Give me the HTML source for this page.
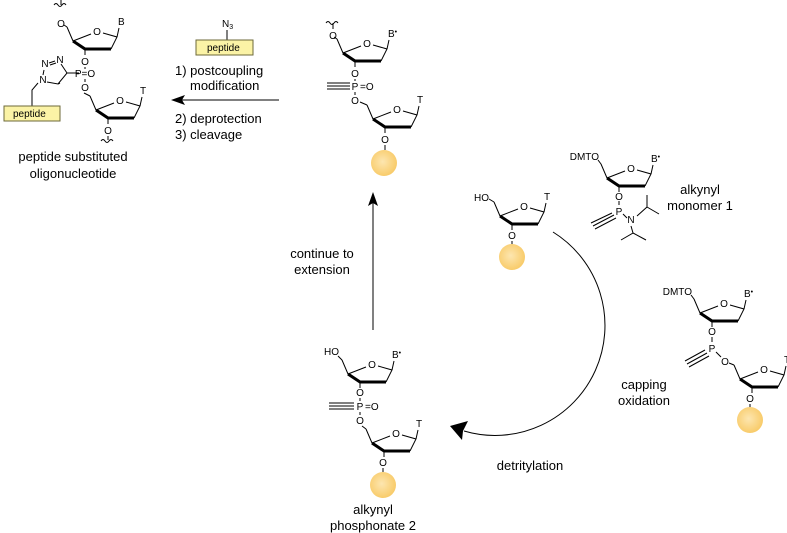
<!DOCTYPE html>
<html><head><meta charset="utf-8"><style>
html,body{margin:0;padding:0;background:#fff;}
svg{display:block;}
.l{stroke:#000;stroke-width:1;fill:none;}
.b{stroke:#000;stroke-width:3;fill:none;stroke-linejoin:round;}
.a{font-family:"Liberation Sans",sans-serif;font-size:10px;text-anchor:middle;fill:#000;}
.s{font-family:"Liberation Sans",sans-serif;font-size:10px;fill:#000;}
.c{font-family:"Liberation Sans",sans-serif;font-size:13px;fill:#000;}
.m{text-anchor:middle;}
.bd{fill:url(#g);}
.pb{fill:#fbf3a6;stroke:#6d6a3a;stroke-width:1;}
</style></head><body>
<svg width="787" height="533" viewBox="0 0 787 533" xmlns="http://www.w3.org/2000/svg">
<defs><radialGradient id="g" cx="0.45" cy="0.45" r="0.6"><stop offset="0" stop-color="#fde6b0"/><stop offset="1" stop-color="#f8c964"/></radialGradient></defs>

<!-- ===== A: product ===== -->
<g transform="translate(73,41)">
<path class="l" d="M0,0 L18,-7 M30,-8 L44,-4 L38,8 M-6,-14 L0,0 M-6,-14 L-9,-16 M44,-4 L46,-13 M12,8 L12,14"/>
<path class="b" d="M0,0 L12,8 L38,8"/>
<text class="a" x="24" y="-6">O</text>
<text class="a" x="-12" y="-14">O</text>
<text class="s" x="45" y="-16">B</text>
<text class="a" x="12" y="24">O</text>
</g>
<path class="l" d="M61,-1 L61,5 M54,5 q2,-3 4,0 t4,0 t4,0"/>
<text class="a" x="85" y="77">P=O</text>
<text class="a" x="85" y="91">O</text>
<path class="l" d="M85,67 L85,69 M85,79 L85,82 M79,73 L67,73 L58,84 L47,82 M67,73 L61,64 M58,84 L60,83"/>
<text class="a" x="45" y="67">N</text>
<text class="a" x="60" y="63">N</text>
<path class="l" d="M49,63 L55,61 M50,65 L56,63"/>
<text class="a" x="43" y="83">N</text>
<path class="l" d="M44,70 L43,75 M38,83 L32,90 L32,106"/>
<rect class="pb" x="4" y="106" width="56" height="15"/>
<text class="s" x="13" y="117">peptide</text>
<g transform="translate(96,110)">
<path class="l" d="M0,0 L18,-7 M30,-8 L44,-4 L38,8 M-6,-14 L0,0 M-6,-14 L-12,-17 M44,-4 L46,-13 M12,8 L12,14"/>
<path class="b" d="M0,0 L12,8 L38,8"/>
<text class="a" x="24" y="-6">O</text>
<text class="s" x="44" y="-16">T</text>
<text class="a" x="12" y="24">O</text>
<path class="l" d="M12,26 L12,30 M5,31 q2,-3 4,0 t4,0 t4,0"/>
</g>
<text class="c m" x="73" y="161">peptide substituted</text>
<text class="c m" x="73" y="178">oligonucleotide</text>

<!-- ===== B: arrow left ===== -->
<text class="s" x="222" y="27">N<tspan font-size="7" dy="2">3</tspan></text>
<path class="l" d="M227,30 L227,40"/>
<rect class="pb" x="196" y="40" width="57" height="15"/>
<text class="s" x="207" y="51">peptide</text>
<text class="c" x="175" y="75">1) postcoupling</text>
<text class="c" x="190" y="90">modification</text>
<path class="l" d="M279,100 L182,100"/>
<polygon points="171,100 185,95 182,100 185,105" fill="#000"/>
<text class="c" x="175" y="123">2) deprotection</text>
<text class="c" x="175" y="139">3) cleavage</text>

<!-- ===== C: top middle ===== -->
<g transform="translate(343,53)">
<path class="l" d="M0,0 L18,-7 M30,-8 L44,-4 L38,8 M-6,-14 L0,0 M-6,-14 L-9,-16 M44,-4 L46,-13 M12,8 L12,14"/>
<path class="b" d="M0,0 L12,8 L38,8"/>
<text class="a" x="24" y="-6">O</text>
<text class="a" x="-10" y="-14">O</text>
<path class="l" d="M-10,-24 L-10,-30 M-17,-30 q2,-3 4,0 t4,0 t4,0"/>
<text class="s" x="45" y="-16">B<tspan font-size="7" dy="-3">•</tspan></text>
<text class="a" x="12" y="24">O</text>
</g>
<text class="a" x="355" y="90">P</text>
<text class="s" x="360" y="90">=O</text>
<text class="a" x="355" y="104">O</text>
<path class="l" d="M355,79 L355,81 M355,92 L355,95 M327,83 L350,83 M327,86 L350,86 M327,89 L350,89"/>
<g transform="translate(373,119)">
<path class="l" d="M0,0 L18,-7 M30,-8 L44,-4 L38,8 M-6,-14 L0,0 M-6,-14 L-13,-17 M44,-4 L46,-13 M12,8 L12,14"/>
<path class="b" d="M0,0 L12,8 L38,8"/>
<text class="a" x="24" y="-6">O</text>
<text class="s" x="44" y="-16">T</text>
<text class="a" x="12" y="24">O</text>
<path class="l" d="M12,26 L12,31"/>
<circle class="bd" cx="11" cy="44" r="13"/>
</g>

<!-- ===== D: up arrow ===== -->
<path class="l" d="M373,330 L373,203"/>
<polygon points="373,192 368,206 373,203 378,206" fill="#000"/>
<text class="c m" x="322" y="258">continue to</text>
<text class="c m" x="322" y="274">extension</text>

<!-- ===== E: HO-T bead ===== -->
<g transform="translate(500,216)">
<path class="l" d="M0,0 L18,-7 M30,-8 L44,-4 L38,8 M-6,-14 L0,0 M-6,-14 L-11,-17 M44,-4 L46,-13 M12,8 L12,14"/>
<path class="b" d="M0,0 L12,8 L38,8"/>
<text class="a" x="24" y="-6">O</text>
<text class="s" x="-11" y="-15" text-anchor="end">HO</text>
<text class="s" x="44" y="-16">T</text>
<text class="a" x="12" y="23">O</text>
<path class="l" d="M12,25 L12,29"/>
<circle class="bd" cx="12" cy="41" r="13"/>
</g>

<!-- ===== F: monomer 1 ===== -->
<g transform="translate(607,178)">
<path class="l" d="M0,0 L18,-7 M30,-8 L44,-4 L38,8 M-6,-14 L0,0 M-6,-14 L-9,-18 M44,-4 L46,-13 M12,8 L12,14"/>
<path class="b" d="M0,0 L12,8 L38,8"/>
<text class="a" x="24" y="-6">O</text>
<text class="s" x="-8" y="-18" text-anchor="end" font-size="9">DMTO</text>
<text class="s" x="44" y="-16">B<tspan font-size="7" dy="-3">•</tspan></text>
<text class="a" x="12" y="22">O</text>
</g>
<text class="a" x="619" y="215">P</text>
<text class="a" x="631" y="223">N</text>
<path class="l" d="M619,201 L619,205 M623,214 L627,218 M614,215 L593,226 M612,213 L591,223 M616,218 L595,229 M637,216 L647,207 L647,195 M647,207 L659,214 M631,226 L633,233 L621,240 M633,233 L646,240"/>
<text class="c m" x="700" y="194">alkynyl</text>
<text class="c m" x="700" y="210">monomer 1</text>

<!-- ===== G: curved arrow ===== -->
<path class="l" stroke-width="2" d="M553,232 A110,110 0 0 1 464,431"/>
<polygon points="450,426 468,421 463,431 462,440" fill="#000"/>
<text class="c m" x="644" y="389">capping</text>
<text class="c m" x="644" y="405">oxidation</text>
<text class="c m" x="530" y="470">detritylation</text>

<!-- ===== H: right dimer ===== -->
<g transform="translate(700,313)">
<path class="l" d="M0,0 L18,-7 M30,-8 L44,-4 L38,8 M-6,-14 L0,0 M-6,-14 L-9,-18 M44,-4 L46,-13 M12,8 L12,14"/>
<path class="b" d="M0,0 L12,8 L38,8"/>
<text class="a" x="24" y="-6">O</text>
<text class="s" x="-8" y="-18" text-anchor="end" font-size="9">DMTO</text>
<text class="s" x="44" y="-16">B<tspan font-size="7" dy="-3">•</tspan></text>
<text class="a" x="12" y="22">O</text>
</g>
<text class="a" x="712" y="352">P</text>
<text class="a" x="725" y="365">O</text>
<path class="l" d="M712,337 L712,342 M716,352 L721,357 M707,353 L687,364 M705,350 L685,361 M709,356 L689,367"/>
<g transform="translate(740,379)">
<path class="l" d="M0,0 L18,-7 M30,-8 L44,-4 L38,8 M-6,-14 L0,0 M-6,-14 L-11,-16 M44,-4 L46,-13 M12,8 L12,14"/>
<path class="b" d="M0,0 L12,8 L38,8"/>
<text class="a" x="24" y="-6">O</text>
<text class="s" x="44" y="-16">T</text>
<text class="a" x="10" y="23">O</text>
<path class="l" d="M10,25 L10,29"/>
<circle class="bd" cx="10" cy="41" r="13"/>
</g>

<!-- ===== I: phosphonate 2 ===== -->
<g transform="translate(348,374)">
<path class="l" d="M0,0 L18,-7 M30,-8 L44,-4 L38,8 M-6,-14 L0,0 M-6,-14 L-10,-18 M44,-4 L46,-13 M12,8 L12,14"/>
<path class="b" d="M0,0 L12,8 L38,8"/>
<text class="a" x="24" y="-6">O</text>
<text class="s" x="-9" y="-19" text-anchor="end">HO</text>
<text class="s" x="44" y="-16">B<tspan font-size="7" dy="-3">•</tspan></text>
<text class="a" x="12" y="22">O</text>
</g>
<text class="a" x="360" y="410">P</text>
<text class="s" x="365" y="410">=O</text>
<text class="a" x="360" y="424">O</text>
<path class="l" d="M360,398 L360,401 M360,412 L360,415 M329,403 L354,403 M329,406 L354,406 M329,409 L354,409"/>
<g transform="translate(372,443)">
<path class="l" d="M0,0 L18,-7 M30,-8 L44,-4 L38,8 M-6,-14 L0,0 M-6,-14 L-10,-17 M44,-4 L46,-13 M12,8 L12,14"/>
<path class="b" d="M0,0 L12,8 L38,8"/>
<text class="a" x="24" y="-6">O</text>
<text class="s" x="44" y="-16">T</text>
<text class="a" x="11" y="23">O</text>
<path class="l" d="M11,25 L11,29"/>
<circle class="bd" cx="11" cy="42" r="13"/>
</g>
<text class="c m" x="373" y="514">alkynyl</text>
<text class="c m" x="373" y="530">phosphonate 2</text>
</svg>
</body></html>
